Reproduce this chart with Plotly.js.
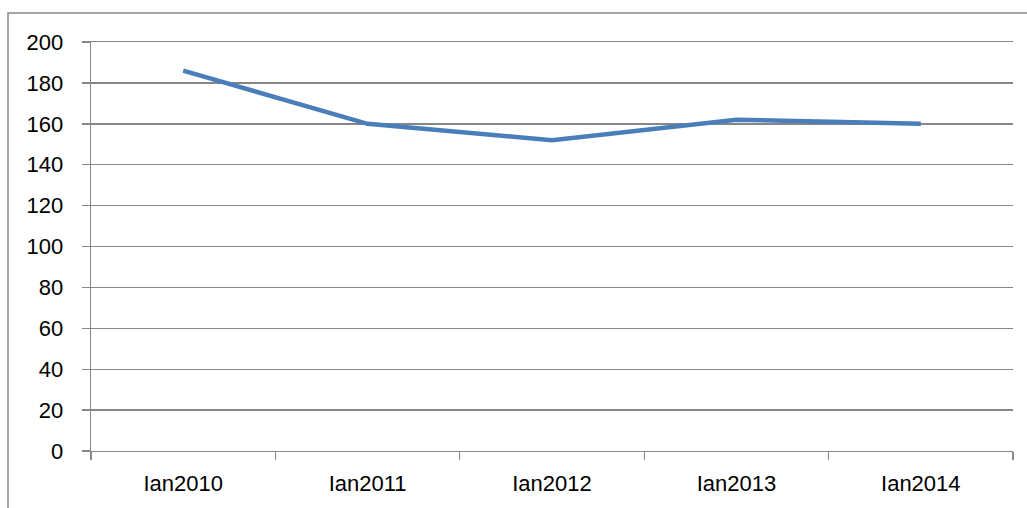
<!DOCTYPE html>
<html><head><meta charset="utf-8">
<script src="https://cdn.plot.ly/plotly-3.0.1.min.js"></script>
<style>html,body{margin:0;padding:0;background:#fff}#c{width:1027px;height:508px}</style>
</head><body><div id="c"></div>
<script>
const categories = ["Ian2010","Ian2011","Ian2012","Ian2013","Ian2014"];
const values = [186, 160, 152, 162, 160];
const yTicks = [0,20,40,60,80,100,120,140,160,180,200];

const W = 1027, H = 508, L = 91, R = 14, T = 42, B = 57;
const pw = W - L - R, ph = H - T - B;

Plotly.newPlot('c', [{
  x: categories, y: values, type: 'scatter', mode: 'lines',
  line: {color: '#4a7ebb', width: 4.5}, hoverinfo: 'none'
}], {
  width: W, height: H,
  margin: {l: L, r: R, t: T, b: B, pad: 0},
  paper_bgcolor: '#fff', plot_bgcolor: '#fff',
  showlegend: false,
  font: {family: 'Liberation Sans, Arial, sans-serif', size: 22, color: '#000'},
  xaxis: {
    type: 'category', tickson: 'boundaries', ticks: 'outside', ticklen: 8,
    tickcolor: '#868686', tickwidth: 1.4, showline: true, mirror: true,
    linecolor: '#868686', linewidth: 1.4,
    showgrid: false, zeroline: false, range: [-0.5, 4.5], fixedrange: true,
    tickfont: {size: 22}, ticklabelstandoff: 12
  },
  yaxis: {
    range: [0, 200], tickvals: yTicks, ticks: 'outside', ticklen: 8,
    tickcolor: '#868686', tickwidth: 1.4, showline: true, linecolor: '#868686', linewidth: 1.4,
    gridcolor: '#868686', gridwidth: 1.4, zeroline: false, fixedrange: true,
    tickfont: {size: 22}, ticklabelstandoff: 14
  },
  shapes: [{
    type: 'rect', xref: 'paper', yref: 'paper', layer: 'below',
    x0: (8 - L) / pw, x1: (W + 20 - L) / pw,
    y0: -(B + 20) / ph, y1: (H - B - 13) / ph,
    line: {color: '#868686', width: 1.5}, fillcolor: 'rgba(0,0,0,0)'
  }]
}, {staticPlot: true, displayModeBar: false});
</script></body></html>
